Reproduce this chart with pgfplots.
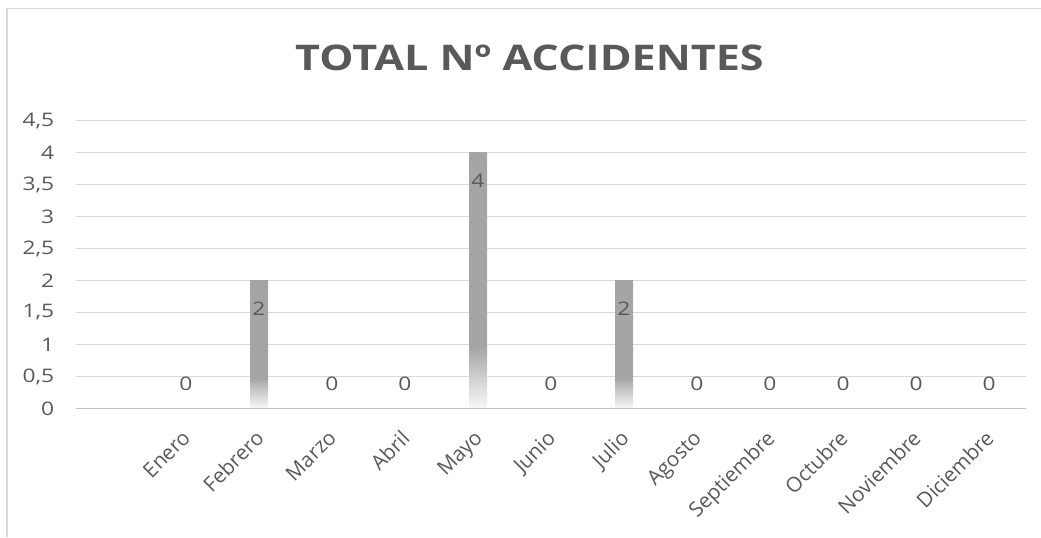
\documentclass[border=0pt]{standalone}
\usepackage{pgfplots}
\pgfplotsset{compat=1.18}
\usepackage{fontspec}
\setmainfont{Open Sans}[FakeStretch=1.22]
\newfontfamily\monthfont{Open Sans}
\definecolor{txt}{HTML}{595959}
\definecolor{gridc}{HTML}{D9D9D9}
\definecolor{barg}{HTML}{A5A5A5}
\definecolor{barw}{HTML}{F8F8F8}
\definecolor{barm}{HTML}{D0D0D0}
\pgfdeclareverticalshading{barshade}{100bp}{color(0bp)=(barw); color(25bp)=(barw); color(31bp)=(barm); color(37bp)=(barg); color(100bp)=(barg)}
\begin{document}
\begin{tikzpicture}[x=1pt,y=1pt]
\path[use as bounding box] (0,0) rectangle (780.75,402.75);
\draw[gridc, line width=1.1pt] (5.25,0) -- (5.25,396.4) -- (780.75,396.4);
\node[font=\bfseries\fontsize{26.5}{30}\selectfont, text=txt, anchor=base, inner sep=0pt] at (397.1,350.25) {TOTAL Nº ACCIDENTES};
\begin{axis}[at={(57.375pt,96.375pt)}, anchor=south west, scale only axis,
  width=711.75pt, height=216pt,
  xmin=-0.5, xmax=12.5, ymin=0, ymax=4.5,
  clip=false,
  axis line style={draw=none},
  major tick length=0pt,
  tick style={draw=none},
  ymajorgrids,
  grid style={gridc, line width=0.9pt},
  ytick={0,0.5,1,1.5,2,2.5,3,3.5,4,4.5},
  /pgf/number format/assume math mode=true,
  /pgf/number format/use comma,
  yticklabel style={font=\fontsize{14}{16}\selectfont, text=txt, anchor=east, inner sep=0pt, xshift=-16.5pt},
  xtick={1,2,3,4,5,6,7,8,9,10,11,12},
  xticklabels={Enero,Febrero,Marzo,Abril,Mayo,Junio,Julio,Agosto,Septiembre,Octubre,Noviembre,Diciembre},
  xticklabel style={font=\monthfont\fontsize{15.5}{17}\selectfont, text=txt, inner sep=0pt, xshift=-3.75pt, yshift=-15pt, rotate=45, anchor=north east},
  nodes near coords style={font=\fontsize{14}{16}\selectfont, text=txt, anchor=center, inner sep=0pt},
]
\addplot[ybar, bar width=13.5pt, bar shift=0pt, draw=none, shade, shading=barshade,
  nodes near coords, nodes near coords style={yshift=-21pt}] coordinates {(2,2)};
\addplot[ybar, bar width=13.5pt, bar shift=0pt, draw=none, shade, shading=barshade,
  nodes near coords, nodes near coords style={yshift=-21pt}] coordinates {(5,4)};
\addplot[ybar, bar width=13.5pt, bar shift=0pt, draw=none, shade, shading=barshade,
  nodes near coords, nodes near coords style={yshift=-21pt}] coordinates {(7,2)};
\addplot[draw=none, mark=none, nodes near coords, nodes near coords style={yshift=18.4pt}]
  coordinates {(1,0) (3,0) (4,0) (6,0) (8,0) (9,0) (10,0) (11,0) (12,0)};
\draw[gridc!90!black, line width=1pt] (axis cs:-0.5,0) -- (axis cs:12.5,0);
\end{axis}
\end{tikzpicture}
\end{document}
